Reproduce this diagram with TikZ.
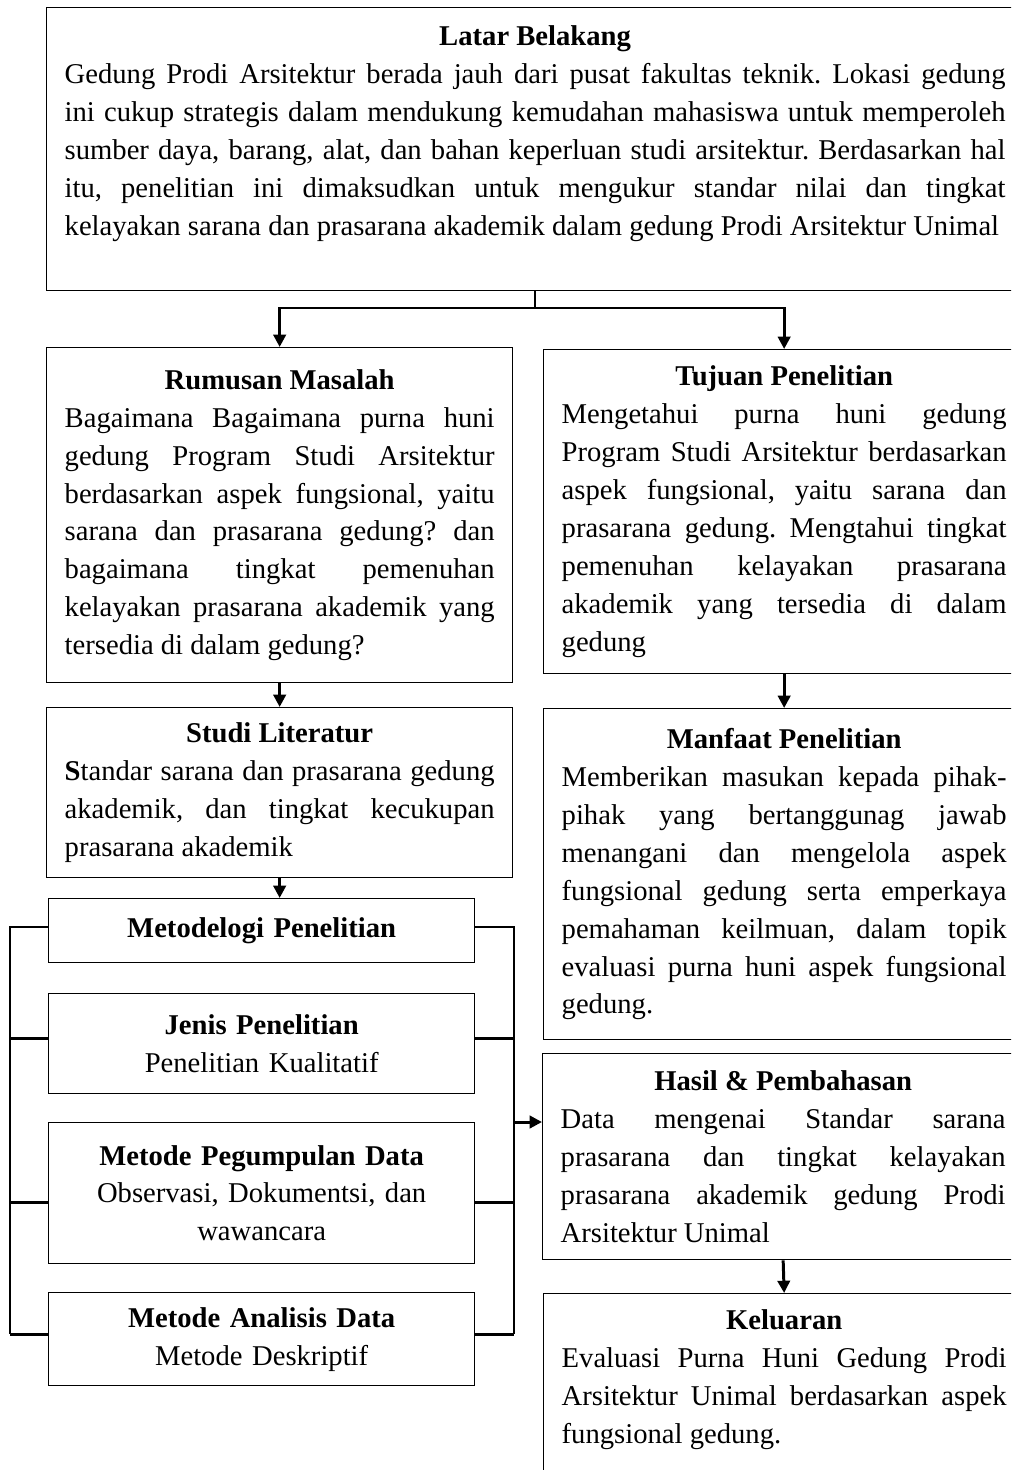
\documentclass[tikz,border=0pt]{standalone}
\usepackage{fontspec}
\setmainfont{Liberation Serif}
\usetikzlibrary{arrows.meta}
\setlength{\parindent}{0pt}
\frenchspacing
\tolerance=10000 \pretolerance=-1 \hbadness=10000 \hfuzz=3pt \hyphenpenalty=10000

\tikzset{
  box/.style={draw, line width=0.8pt, anchor=north west, inner xsep=0.36cm,
    inner ysep=0pt, align=justify, font=\fontsize{16.3}{21.6}\selectfont},
  leftbox/.style={box, minimum width=9.32cm, text width=8.6cm},
  rightbox/.style={box, minimum width=9.62cm, text width=8.9cm},
  methodbox/.style={box, minimum width=8.52cm, text width=7.8cm, align=center},
  flow/.style={line width=1.7pt, -{Triangle[width=7pt,length=7pt]}},
  rail/.style={line width=1.2pt},
  stub/.style={line width=1.7pt},
}

\begin{document}
\begin{tikzpicture}[x=0.02cm, y=-0.02cm]
  \useasboundingbox (0,0) rectangle (1011,1470);
  \clip (0,0) rectangle (1011,1470);

  % top box
  \node[box, text width=18.82cm, minimum width=19.54cm, minimum height=5.66cm] (latar) at (46,7)
    {{\centering\textbf{Latar Belakang}\par}
     Gedung Prodi Arsitektur berada jauh dari pusat fakultas teknik. Lokasi gedung\linebreak
     ini cukup strategis dalam mendukung kemudahan mahasiswa untuk memperoleh\linebreak
     sumber daya, barang, alat, dan bahan keperluan studi arsitektur. Berdasarkan hal\linebreak
     itu, penelitian ini dimaksudkan untuk mengukur standar nilai dan tingkat\linebreak
     kelayakan sarana dan prasarana akademik dalam gedung Prodi Arsitektur Unimal\par\mbox{}};

  % left column
  \node[leftbox, minimum height=6.7cm] (rumusan) at (46,347)
    {{\centering\textbf{Rumusan Masalah}\par}
     Bagaimana Bagaimana purna huni\linebreak
     gedung Program Studi Arsitektur\linebreak
     berdasarkan aspek fungsional, yaitu\linebreak
     sarana dan prasarana gedung? dan\linebreak
     bagaimana tingkat pemenuhan\linebreak
     kelayakan prasarana akademik yang\linebreak
     tersedia di dalam gedung?};
  \node[leftbox, minimum height=3.4cm] (studi) at (46,707)
    {{\centering\textbf{Studi Literatur}\par}
     \textbf{S}tandar sarana dan prasarana gedung\linebreak
     akademik, dan tingkat kecukupan\linebreak
     prasarana akademik};
  \node[methodbox, minimum height=1.28cm] (metode) at (48,898)
    {\textbf{Metodelogi Penelitian}};
  \node[methodbox, minimum height=2cm] (jenis) at (48,993)
    {\textbf{Jenis Penelitian}\\ Penelitian Kualitatif};
  \node[methodbox, minimum height=2.82cm] (kumpul) at (48,1122)
    {\textbf{Metode Pegumpulan Data}\\ Observasi, Dokumentsi, dan\\ wawancara};
  \node[methodbox, minimum height=1.86cm] (analisis) at (48,1292)
    {\textbf{Metode Analisis Data}\\ Metode Deskriptif};

  % right column
  \node[rightbox, minimum height=6.48cm] (tujuan) at (543,349)
    {{\centering\textbf{Tujuan Penelitian}\par}
     Mengetahui purna huni gedung\linebreak
     Program Studi Arsitektur berdasarkan\linebreak
     aspek fungsional, yaitu sarana dan\linebreak
     prasarana gedung. Mengtahui tingkat\linebreak
     pemenuhan kelayakan prasarana\linebreak
     akademik yang tersedia di dalam\linebreak
     gedung};
  \node[rightbox, minimum height=6.62cm] (manfaat) at (543,708)
    {{\centering\textbf{Manfaat Penelitian}\par}
     Memberikan masukan kepada pihak-\linebreak
     pihak yang bertanggunag jawab\linebreak
     menangani dan mengelola aspek\linebreak
     fungsional gedung serta emperkaya\linebreak
     pemahaman keilmuan, dalam topik\linebreak
     evaluasi purna huni aspek fungsional\linebreak
     gedung.};
  \node[rightbox, minimum height=4.12cm] (hasil) at (542,1053)
    {{\centering\textbf{Hasil \& Pembahasan}\par}
     Data mengenai Standar sarana\linebreak
     prasarana dan tingkat kelayakan\linebreak
     prasarana akademik gedung Prodi\linebreak
     Arsitektur Unimal};
  \node[rightbox, minimum height=4.06cm] (keluaran) at (543,1293)
    {{\centering\textbf{Keluaran}\par}
     Evaluasi Purna Huni Gedung Prodi\linebreak
     Arsitektur Unimal berdasarkan aspek\linebreak
     fungsional gedung.\par\mbox{}};

  % connectors
  \coordinate (split) at (535,308);
  \coordinate (railL) at (10,927);
  \coordinate (railR) at (514,927);
  \coordinate (feed) at (514,1122);
  \draw[line width=0.8pt] (latar.south) -- (latar.south |- split);
  \draw[flow] (latar.south |- split) -| (rumusan.north);
  \draw[flow] (latar.south |- split) -| (tujuan.north);
  \draw[flow] (rumusan.south) -- (studi.north);
  \draw[flow] (studi.south) -- (studi.south |- metode.north);
  \draw[flow] (tujuan.south) -- (manfaat.north);
  \draw[flow] (hasil.south) -- (keluaran.north);
  \draw[rail] (railL -| metode.west) -- (railL) -- ([yshift=0.1cm]analisis.west -| railL);
  \draw[rail] (railR -| metode.east) -- (railR) -- ([yshift=0.1cm]analisis.east -| railR);
  \foreach \b/\dy in {jenis/0.1, kumpul/-0.18, analisis/0.1} {
    \draw[stub] ([yshift=\dy cm]\b.west) -- ([yshift=\dy cm]\b.west -| railL);
    \draw[stub] ([yshift=\dy cm]\b.east) -- ([yshift=\dy cm]\b.east -| railR);
  }
  \draw[flow] (feed) -- (feed -| hasil.west);
\end{tikzpicture}
\end{document}
